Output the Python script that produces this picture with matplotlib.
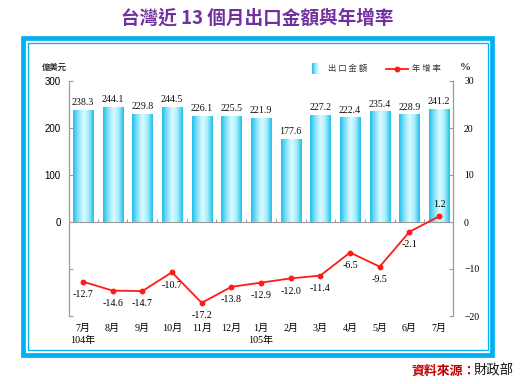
import matplotlib
matplotlib.use("Agg")
import matplotlib.pyplot as plt
import numpy as np
from matplotlib.patches import Rectangle
from matplotlib.colors import LinearSegmentedColormap

months = ["7月\n104年", "8月", "9月", "10月", "11月", "12月", "1月\n105年",
          "2月", "3月", "4月", "5月", "6月", "7月"]
export_value = [238.3, 244.1, 229.8, 244.5, 226.1, 225.5, 221.9,
                177.6, 227.2, 222.4, 235.4, 228.9, 241.2]
yoy_growth = [-12.7, -14.6, -14.7, -10.7, -17.2, -13.8, -12.9,
              -12.0, -11.4, -6.5, -9.5, -2.1, 1.2]

SERIF = ["Liberation Serif", "Noto Sans CJK TC"]
CJK = ["Noto Sans CJK TC", "DejaVu Sans"]
W, H = 526, 384

fig = plt.figure(figsize=(W / 100, H / 100), dpi=100)
fig.patch.set_facecolor("white")

# frame
fig.patches.append(Rectangle((23 / W, 1 - 355 / H), 469 / W, 317 / H,
                             transform=fig.transFigure, fill=False,
                             edgecolor="#00b0f0", linewidth=3.4))
fig.patches.append(Rectangle((27.5 / W, 1 - 350 / H), 460 / W, 307.5 / H,
                             transform=fig.transFigure, fill=False,
                             edgecolor="#00b0f0", linewidth=0.9))

ax = fig.add_axes([69 / W, 1 - 316 / H, 384 / W, 235 / H])
ax2 = ax.twinx()

x = np.arange(len(months))
bars = ax.bar(x, export_value, width=0.68, color="#5fd3f3", zorder=2)

cmap = LinearSegmentedColormap.from_list(
    "cyan", ["#1fbfee", "#86e2f8", "#dcfbff", "#a6eefb", "#1fbfee"])
grad = np.linspace(0, 1, 64).reshape(1, -1)
for b in bars:
    bx, bw, bh = b.get_x(), b.get_width(), b.get_height()
    im = ax.imshow(grad, extent=[bx, bx + bw, 0, bh], aspect="auto",
                   cmap=cmap, zorder=3, interpolation="bicubic")
    im.set_clip_path(b)
    ax.annotate(f"{bh:.1f}", (bx + bw / 2, bh), xytext=(0, 2),
                textcoords="offset points", ha="center", va="bottom",
                fontsize=7.2, family=SERIF, color="#111111")

ax.set_xlim(-0.47, 12.47)
ax.set_ylim(-200, 300)
ax.axhline(0, color="#9a9a9a", linewidth=0.8, zorder=1)
# small separator ticks on the zero line
ax.vlines(x[:-1] + 0.5, 0, 6, color="#9a9a9a", linewidth=0.7, zorder=1)

ax.set_yticks([-200, -100, 0, 100, 200, 300])
ax.set_yticklabels(["", "", "0", "100", "200", "300"])
ax.tick_params(axis="y", direction="in", length=3, color="#9a9a9a",
               labelsize=7, pad=6)
for lab in ax.get_yticklabels():
    lab.set_family("Liberation Sans")
ax.set_xticks(x)
ax.set_xticklabels(months, family=SERIF, fontsize=7.2, linespacing=1.35)
ax.tick_params(axis="x", length=0, pad=6)

for a in (ax, ax2):
    a.spines["top"].set_visible(False)
    a.spines["bottom"].set_visible(False)
    a.spines["left"].set_color("#9a9a9a")
    a.spines["right"].set_color("#9a9a9a")
    a.spines["left"].set_linewidth(0.8)
    a.spines["right"].set_linewidth(0.8)

ax2.plot(x, yoy_growth, color="#ff1a1a", linewidth=1.3, marker="o",
         markersize=3.2, zorder=5)
ax2.set_ylim(-20, 30)
ax2.set_yticks([-20, -10, 0, 10, 20, 30])
ax2.tick_params(axis="y", direction="in", length=3, color="#9a9a9a",
                labelsize=7, pad=8)
for lab in ax2.get_yticklabels():
    lab.set_family("Liberation Serif")

for xi, v in zip(x, yoy_growth):
    if v > 0:
        ax2.annotate(f"{v:.1f}", (xi, v), xytext=(0, 5), textcoords="offset points",
                     ha="center", va="bottom", fontsize=7.2, family=SERIF)
    else:
        ax2.annotate(f"{v:.1f}", (xi, v), xytext=(0, -6), textcoords="offset points",
                     ha="center", va="top", fontsize=7.2, family=SERIF)

# units
fig.text(42 / W, 1 - 67 / H, "億美元", family=CJK, fontsize=6.0, weight="bold",
         va="center", ha="left", color="#333333")
fig.text(465 / W, 1 - 67 / H, "%", family=SERIF, fontsize=8, weight="bold",
         va="center", ha="center", color="#333333")

# legend
lax = fig.add_axes([312 / W, 1 - 74 / H, 7 / W, 11 / H])
lax.imshow(np.linspace(0, 0.6, 16).reshape(1, -1), aspect="auto", cmap=cmap,
           vmin=0, vmax=1, interpolation="bicubic")
lax.axis("off")
fig.text(328 / W, 1 - 68.5 / H, "出 口 金 額", family=CJK, fontsize=6,
         va="center", ha="left", color="#333333")
fig.lines.append(plt.Line2D([386 / W, 408 / W], [1 - 68.5 / H, 1 - 68.5 / H],
                            transform=fig.transFigure, color="#ff1a1a",
                            linewidth=1.3))
fig.lines.append(plt.Line2D([397 / W], [1 - 68.5 / H], transform=fig.transFigure,
                            color="#ff1a1a", marker="o", markersize=3.2))
fig.text(412 / W, 1 - 68.5 / H, "年 增 率", family=CJK, fontsize=6,
         va="center", ha="left", color="#333333")

# title
fig.text(257 / W, 1 - 18 / H, "台灣近 13 個月出口金額與年增率", family=CJK,
         fontsize=13.4, weight="bold", color="#7030a0", ha="center", va="center")

# source
src = fig.text(411 / W, 1 - 371 / H, "資料來源：", family=CJK, fontsize=9.3,
               weight="bold", color="#c00000", ha="left", va="center")
fig.add_artist(plt.Annotation("財政部", xy=(1, 0.5), xycoords=src,
                              xytext=(-1.5, 0), textcoords="offset points",
                              family=CJK, fontsize=9.6, color="#111111",
                              ha="left", va="center"))

fig.savefig("out.png", dpi=100, facecolor="white")
